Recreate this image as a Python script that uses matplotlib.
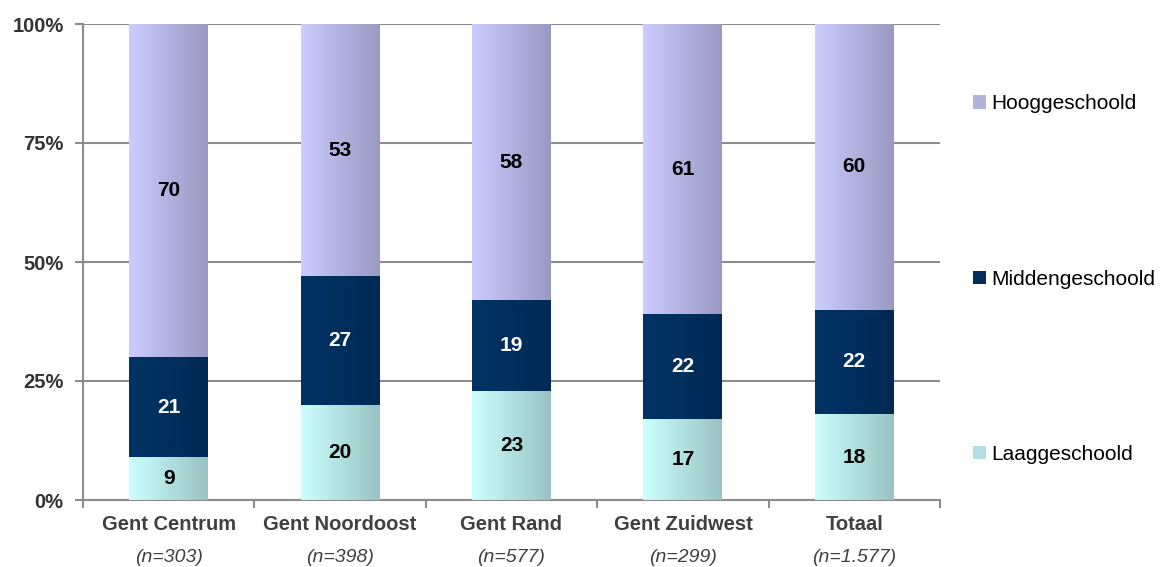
import numpy as np
import matplotlib.pyplot as plt
from matplotlib.colors import LinearSegmentedColormap
from matplotlib.patches import Patch
from matplotlib.ticker import FuncFormatter

plt.rcParams['font.family'] = ['Liberation Sans', 'DejaVu Sans']

regions = ["Gent Centrum", "Gent Noordoost", "Gent Rand", "Gent Zuidwest", "Totaal"]
n_labels = ["(n=303)", "(n=398)", "(n=577)", "(n=299)", "(n=1.577)"]

laag = [9, 20, 23, 17, 18]
midden = [21, 27, 19, 22, 22]
hoog = [70, 53, 58, 61, 60]

# name, values, gradient left->right, label colour
series = [
    ("Laaggeschoold", laag, ("#CCFFFF", "#99C2C2"), "black"),
    ("Middengeschoold", midden, ("#003366", "#002A55"), "white"),
    ("Hooggeschoold", hoog, ("#CCCCFF", "#9999C2"), "black"),
]

fig = plt.figure(figsize=(11.63, 5.67), dpi=100)
ax = fig.add_axes([83 / 1163, 1 - 500 / 567, (940 - 83) / 1163, (500 - 24) / 567])

x = np.arange(len(regions))
width = 0.46
bottom = np.zeros(len(regions))
grad = np.linspace(0, 1, 256).reshape(1, -1)
handles = []
for name, vals, (c1, c2), tc in series:
    vals = np.array(vals, dtype=float)
    bars = ax.bar(x, vals, width, bottom=bottom, color=c1, linewidth=0, zorder=3)
    cmap = LinearSegmentedColormap.from_list(name, [c1, c2])
    for b, v in zip(bars, vals):
        bx, by, bw, bh = b.get_x(), b.get_y(), b.get_width(), b.get_height()
        im = ax.imshow(grad, cmap=cmap, aspect='auto', zorder=3.5,
                       extent=[bx, bx + bw, by, by + bh])
        im.set_clip_path(b)
        ax.text(bx + bw / 2, by + bh / 2, f"{v:.0f}", ha='center', va='center',
                fontsize=15, fontweight='bold', color=tc, zorder=5)
    bottom += vals
    handles.append(Patch(facecolor=cmap(0.5), label=name))

ax.set_xlim(-0.5, len(regions) - 0.5)
ax.set_ylim(0, 100)
ax.set_yticks([0, 25, 50, 75, 100])
ax.yaxis.set_major_formatter(FuncFormatter(lambda v, p: f"{v:.0f}%"))
ax.yaxis.grid(True, color="#8C8C8C", linewidth=1.5, zorder=0)
ax.set_axisbelow(True)

for s in ["top", "right"]:
    ax.spines[s].set_visible(False)
for s in ["left", "bottom"]:
    ax.spines[s].set_color("#8C8C8C")
    ax.spines[s].set_linewidth(1.5)

ax.tick_params(axis='y', length=6, width=1.5, color="#8C8C8C", pad=8,
               labelsize=14.5, labelcolor="#333333")
for t in ax.get_yticklabels():
    t.set_fontweight('bold')

ax.set_xticks(x)
ax.set_xticklabels([])
ax.tick_params(axis='x', which='major', length=0)
ax.set_xticks(np.arange(len(regions) + 1) - 0.5, minor=True)
ax.tick_params(axis='x', which='minor', length=6, width=1.5, color="#8C8C8C")

trans = ax.get_xaxis_transform()
for xi, reg, nl in zip(x, regions, n_labels):
    ax.annotate(reg, (xi, 0), xycoords=trans, xytext=(0, -25), textcoords='offset pixels',
                ha='center', va='center', fontsize=14.5, fontweight='bold', color="#404040")
    ax.annotate(nl, (xi, 0), xycoords=trans, xytext=(0, -57), textcoords='offset pixels',
                ha='center', va='center', fontsize=14, fontstyle='italic', color="#404040")

fig.legend(handles=handles[::-1], loc='upper left', bbox_to_anchor=(963 / 1163, 1 - 84 / 567),
           frameon=False, fontsize=15, borderpad=0, handlelength=0.6, handleheight=0.6,
           handletextpad=0.25, labelspacing=7.5)

fig.savefig("out.png", dpi=100)
